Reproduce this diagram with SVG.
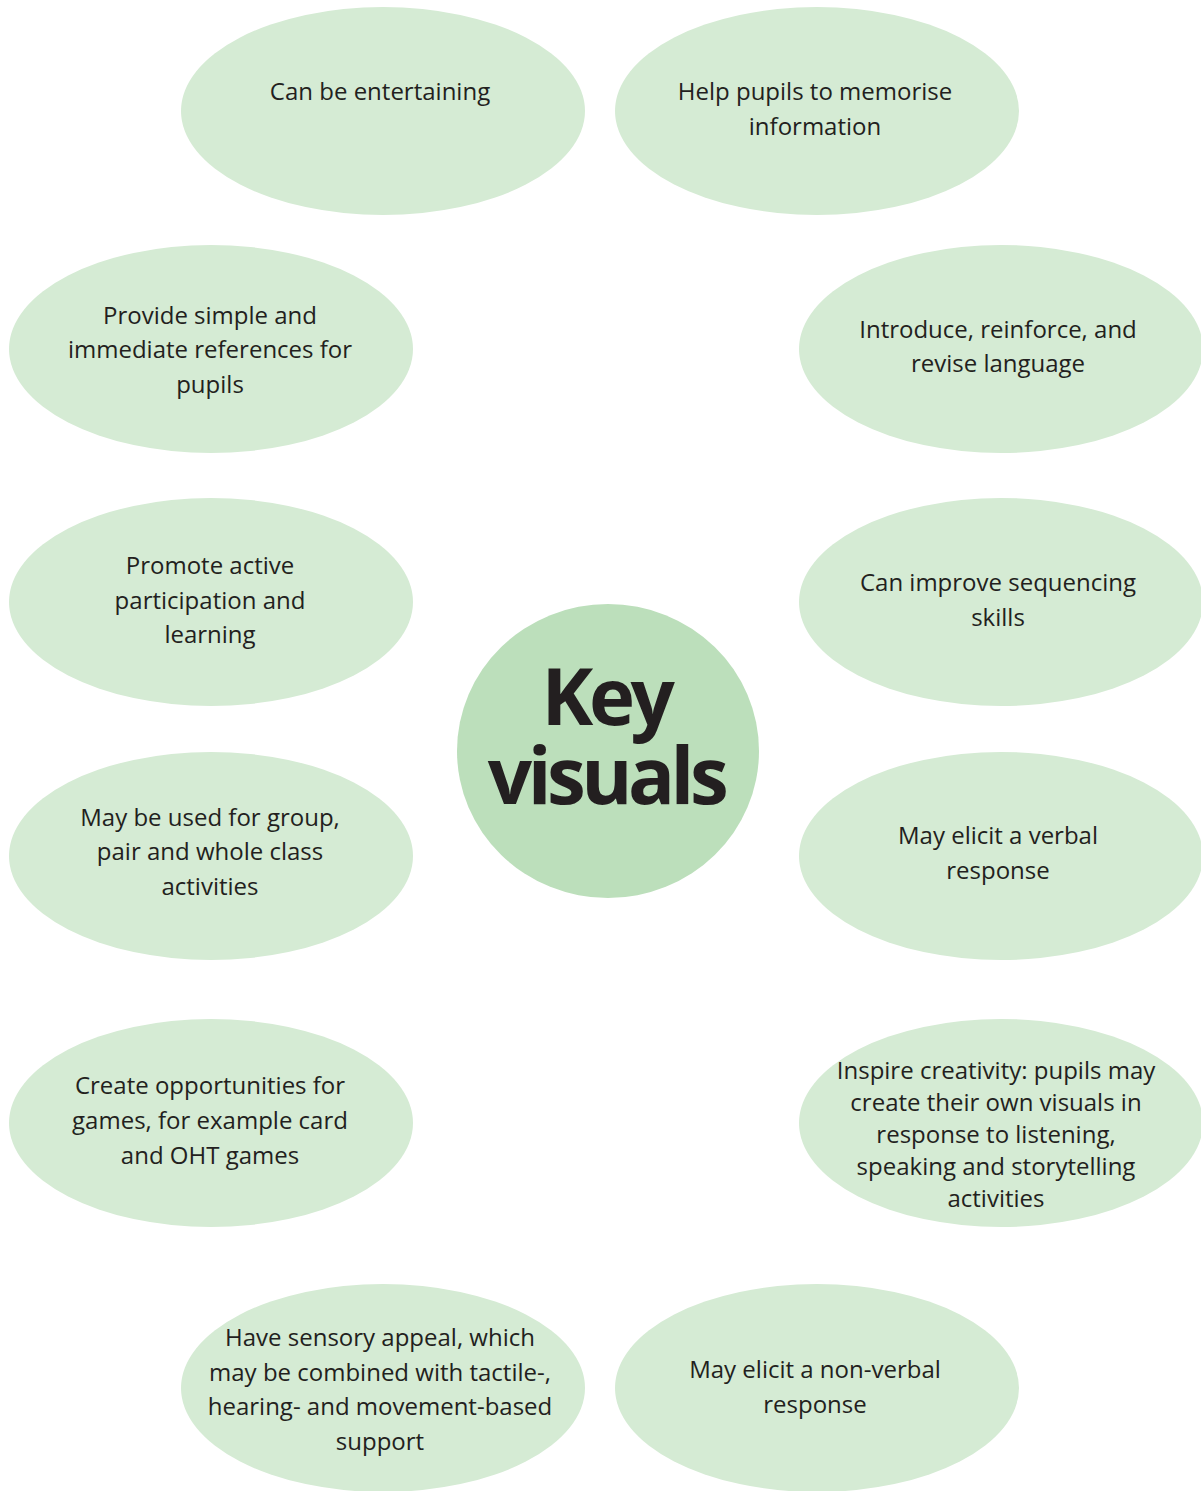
<svg xmlns="http://www.w3.org/2000/svg" width="1201" height="1491" viewBox="0 0 1201 1491">
<style>
.n{fill:#d5ebd4}
.c{fill:#bcdfbb}
.t{font-family:"Open Sans","Noto Sans",sans-serif;font-size:24px;fill:#231f20;text-anchor:middle}
.k{font-family:"Open Sans","Noto Sans",sans-serif;font-size:78px;font-weight:bold;fill:#231f20;text-anchor:middle;letter-spacing:-4.5px}
</style>
<rect width="1201" height="1491" fill="#ffffff"/>
<g id="n1"><ellipse class="n" cx="383" cy="111" rx="202" ry="104"/><text class="t" x="380" y="100">Can be entertaining</text></g>
<g id="n2"><ellipse class="n" cx="817" cy="111" rx="202" ry="104"/><text class="t" x="815" y="100">Help pupils to memorise</text><text class="t" x="815" y="135">information</text></g>
<g id="n3"><ellipse class="n" cx="211" cy="349" rx="202" ry="104"/><text class="t" x="210" y="324">Provide simple and</text><text class="t" x="210" y="358">immediate references for</text><text class="t" x="210" y="393">pupils</text></g>
<g id="n4"><ellipse class="n" cx="1001" cy="349" rx="202" ry="104"/><text class="t" x="998" y="338">Introduce, reinforce, and</text><text class="t" x="998" y="372">revise language</text></g>
<g id="n5"><ellipse class="n" cx="211" cy="602" rx="202" ry="104"/><text class="t" x="210" y="574">Promote active</text><text class="t" x="210" y="609">participation and</text><text class="t" x="210" y="643">learning</text></g>
<g id="n6"><ellipse class="n" cx="1001" cy="602" rx="202" ry="104"/><text class="t" x="998" y="591">Can improve sequencing</text><text class="t" x="998" y="626">skills</text></g>
<g id="n7"><ellipse class="n" cx="211" cy="856" rx="202" ry="104"/><text class="t" x="210" y="826">May be used for group,</text><text class="t" x="210" y="860">pair and whole class</text><text class="t" x="210" y="895">activities</text></g>
<g id="n8"><ellipse class="n" cx="1001" cy="856" rx="202" ry="104"/><text class="t" x="998" y="844">May elicit a verbal</text><text class="t" x="998" y="879">response</text></g>
<g id="n9"><ellipse class="n" cx="211" cy="1123" rx="202" ry="104"/><text class="t" x="210" y="1094">Create opportunities for</text><text class="t" x="210" y="1129">games, for example card</text><text class="t" x="210" y="1164">and OHT games</text></g>
<g id="n10"><ellipse class="n" cx="1001" cy="1123" rx="202" ry="104"/><text class="t" x="996" y="1079">Inspire creativity: pupils may</text><text class="t" x="996" y="1111">create their own visuals in</text><text class="t" x="996" y="1143">response to listening,</text><text class="t" x="996" y="1175">speaking and storytelling</text><text class="t" x="996" y="1207">activities</text></g>
<g id="n11"><ellipse class="n" cx="383" cy="1388" rx="202" ry="104"/><text class="t" x="380" y="1346">Have sensory appeal, which</text><text class="t" x="380" y="1381">may be combined with tactile-,</text><text class="t" x="380" y="1415">hearing- and movement-based</text><text class="t" x="380" y="1450">support</text></g>
<g id="n12"><ellipse class="n" cx="817" cy="1388" rx="202" ry="104"/><text class="t" x="815" y="1378">May elicit a non-verbal</text><text class="t" x="815" y="1413">response</text></g>
<g id="center"><ellipse class="c" cx="608" cy="751" rx="151" ry="147"/><text class="k" x="606" y="725">Key</text><text class="k" x="606" y="804">visuals</text></g>
<g id="connectors"></g>
</svg>
